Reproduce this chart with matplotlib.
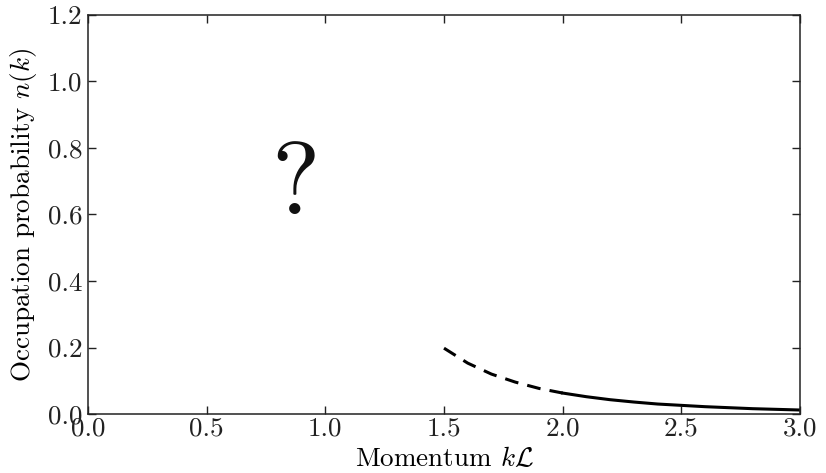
import matplotlib
matplotlib.use('Agg')
import matplotlib.pyplot as plt

# dashed part (extrapolated) and solid tail of n(k)
k_dashed = [1.5, 1.6, 1.7, 1.8, 1.9, 2.0]
n_dashed = [0.198, 0.153, 0.120, 0.096, 0.077, 0.063]
k_solid = [2.0, 2.1, 2.2, 2.3, 2.4, 2.5, 2.6, 2.7, 2.8, 2.9, 3.0]
n_solid = [0.063, 0.052, 0.043, 0.036, 0.030, 0.026, 0.022, 0.019, 0.016, 0.014, 0.012]

x_ticks = [0.0, 0.5, 1.0, 1.5, 2.0, 2.5, 3.0]
y_ticks = [0.0, 0.2, 0.4, 0.6, 0.8, 1.0, 1.2]

plt.rcParams['font.family'] = 'cmr10'
plt.rcParams['mathtext.fontset'] = 'cm'
plt.rcParams['axes.formatter.use_mathtext'] = True

fig = plt.figure(figsize=(8.26, 4.73), dpi=100)
ax = fig.add_axes([88 / 826, 59 / 473, 712 / 826, 399 / 473])

ax.plot(k_dashed, n_dashed, color='black', lw=2.2, dashes=(4.5, 3))
ax.plot(k_solid, n_solid, color='black', lw=2.2)

ax.text(0.875, 0.68, '?', fontsize=74, ha='center', va='center', color='#111111')

ax.set_xlim(0, 3)
ax.set_ylim(0, 1.2)
ax.set_xticks(x_ticks)
ax.set_yticks(y_ticks)
ax.set_xticklabels(['%.1f' % v for v in x_ticks])
ax.set_yticklabels(['%.1f' % v for v in y_ticks])
ax.tick_params(direction='in', top=True, right=True, length=6, width=1,
               labelsize=19.5, labelcolor='#222222', color='#222222')
ax.tick_params(axis='x', pad=2)
ax.tick_params(axis='y', pad=4)
for s in ax.spines.values():
    s.set_linewidth(1.1)
    s.set_color('#222222')

ax.set_xlabel(r'Momentum $k\mathcal{L}$', fontsize=19.5, labelpad=4)
ax.set_ylabel(r'Occupation probability $n(k)$', fontsize=19.5, labelpad=6)

fig.savefig('out.png', dpi=100)
